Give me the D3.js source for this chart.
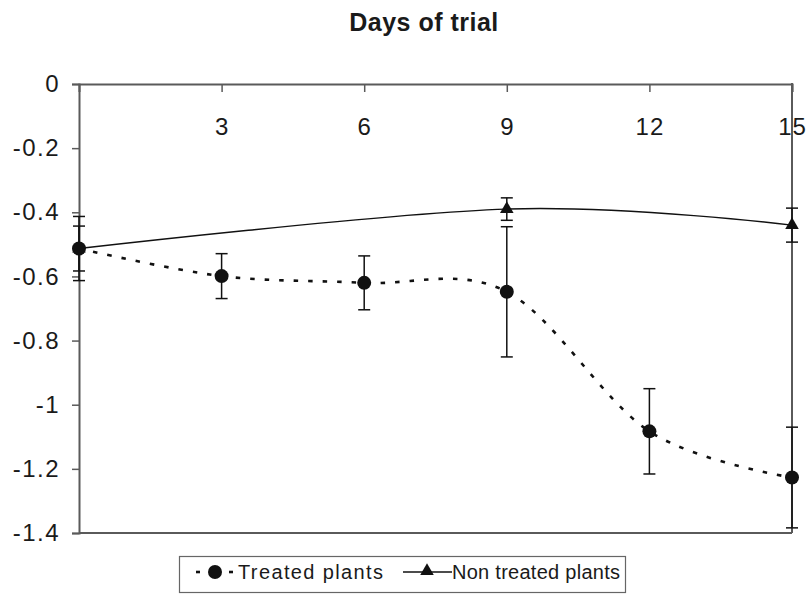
<!DOCTYPE html>
<html>
<head>
<meta charset="utf-8">
<script src="https://cdn.jsdelivr.net/npm/d3@7"></script>
<style>
  html, body { margin: 0; padding: 0; background: #fff; }
  svg { display: block; font-family: "Liberation Sans", Arial, sans-serif; }
</style>
</head>
<body>
<svg id="chart" width="808" height="594"></svg>
<script>
// Days on which measurements were taken
const days = [0, 3, 6, 9, 12, 15];
// Treated plants: mean value and error per day
const treated = [-0.513, -0.599, -0.620, -0.648, -1.083, -1.227];
const treatedErr = [0.10, 0.07, 0.084, 0.203, 0.133, 0.157];
// Non treated plants were measured on fewer days
const nonDays = [0, 9, 15];
const nonTreated = [-0.513, -0.39, -0.44];
const nonErr = [0.07, 0.035, 0.053];
// Axis ticks
const xTicks = [3, 6, 9, 12, 15];
const yTicks = [0, -0.2, -0.4, -0.6, -0.8, -1, -1.2, -1.4];

const svg = d3.select("#chart");
const plotLeft = 79, plotRight = 792, plotTop = 84, plotBottom = 533;
const x = d3.scaleLinear().domain([0, 15]).range([plotLeft, plotRight]);
const y = d3.scaleLinear().domain([0, -1.4]).range([plotTop, plotBottom]);
const axisColor = "#5a5a5a";

// Title
svg.append("text")
  .attr("x", 424).attr("y", 31)
  .attr("text-anchor", "middle")
  .attr("font-size", 25).attr("font-weight", "bold")
  .attr("letter-spacing", 0.5)
  .attr("fill", "#1a1a1a")
  .text("Days of trial");

// Left (value) axis
const yAxis = d3.axisLeft(y).tickValues(yTicks).tickSize(7).tickPadding(12)
  .tickFormat(d => String(+d.toFixed(1)));
const gy = svg.append("g").attr("transform", `translate(${plotLeft},0)`).call(yAxis);
gy.select(".domain").attr("stroke", axisColor).attr("stroke-width", 2);
gy.selectAll(".tick line").attr("stroke", axisColor).attr("stroke-width", 1.5);
gy.selectAll(".tick text")
  .attr("font-size", 24).attr("fill", "#1a1a1a")
  .attr("letter-spacing", 1.5)
  .attr("font-family", "'Liberation Sans', Arial, sans-serif");

// Top (days) axis at value 0, ticks pointing into the plot, labels below
const xAxis = d3.axisBottom(x).tickValues(xTicks).tickSize(8).tickPadding(26);
const gx = svg.append("g").attr("transform", `translate(0,${plotTop})`).call(xAxis);
gx.select(".domain").attr("stroke", axisColor).attr("stroke-width", 2);
gx.selectAll(".tick line").attr("stroke", axisColor).attr("stroke-width", 1.5);
gx.selectAll(".tick text")
  .attr("font-size", 24).attr("fill", "#1a1a1a")
  .attr("letter-spacing", 1)
  .attr("font-family", "'Liberation Sans', Arial, sans-serif");

// Plot frame (right and bottom edges), drawn over the axis labels
svg.append("line").attr("x1", plotRight).attr("x2", plotRight).attr("y1", plotTop - 1).attr("y2", plotBottom)
  .attr("stroke", axisColor).attr("stroke-width", 2);
svg.append("line").attr("x1", plotLeft).attr("x2", plotRight).attr("y1", plotBottom).attr("y2", plotBottom)
  .attr("stroke", axisColor).attr("stroke-width", 2);

const smooth = d3.curveCardinal.tension(0);

// Non treated plants: solid smoothed line
const nonPts = nonDays.map((d, i) => [d, nonTreated[i], nonErr[i]]);
svg.append("path")
  .attr("d", d3.line().x(d => x(d[0])).y(d => y(d[1])).curve(smooth)(nonPts))
  .attr("fill", "none").attr("stroke", "#111").attr("stroke-width", 1.4);

// Treated plants: dotted smoothed line
const trPts = days.map((d, i) => [d, treated[i], treatedErr[i]]);
svg.append("path")
  .attr("d", d3.line().x(d => x(d[0])).y(d => y(d[1])).curve(smooth)(trPts))
  .attr("fill", "none").attr("stroke", "#111").attr("stroke-width", 2.6)
  .attr("stroke-dasharray", "4.5,10");

// Error bars for both series
function errorBars(pts) {
  const g = svg.append("g").attr("stroke", "#111").attr("stroke-width", 1.5);
  pts.forEach(p => {
    const cx = x(p[0]), y1 = y(p[1] + p[2]), y2 = y(p[1] - p[2]);
    g.append("line").attr("x1", cx).attr("x2", cx).attr("y1", y1).attr("y2", y2);
    g.append("line").attr("x1", cx - 6).attr("x2", cx + 6).attr("y1", y1).attr("y2", y1);
    g.append("line").attr("x1", cx - 6).attr("x2", cx + 6).attr("y1", y2).attr("y2", y2);
  });
}
errorBars(nonPts);
errorBars(trPts);

// Markers
const tri = d3.symbol().type(d3.symbolTriangle).size(80);
svg.append("g").selectAll("path").data(nonPts).join("path")
  .attr("transform", d => `translate(${x(d[0])},${y(d[1])})`)
  .attr("d", tri).attr("fill", "#111");
svg.append("g").selectAll("circle").data(trPts).join("circle")
  .attr("cx", d => x(d[0])).attr("cy", d => y(d[1])).attr("r", 7)
  .attr("fill", "#111");

// Legend
const lg = svg.append("g");
lg.append("rect").attr("x", 179.5).attr("y", 556.5).attr("width", 446).attr("height", 36)
  .attr("fill", "#fff").attr("stroke", "#666").attr("stroke-width", 1.2);
[[196, 200], [229, 233]].forEach(([a, b]) => {
  lg.append("line").attr("x1", a).attr("x2", b).attr("y1", 572).attr("y2", 572)
    .attr("stroke", "#111").attr("stroke-width", 2.6);
});
lg.append("circle").attr("cx", 215).attr("cy", 572).attr("r", 7).attr("fill", "#111");
lg.append("text").attr("x", 238).attr("y", 579)
  .attr("font-size", 20).attr("fill", "#1a1a1a")
  .attr("textLength", 145).attr("lengthAdjust", "spacing")
  .text("Treated plants");
lg.append("line").attr("x1", 403).attr("x2", 452).attr("y1", 572).attr("y2", 572)
  .attr("stroke", "#111").attr("stroke-width", 1.4);
lg.append("path").attr("transform", "translate(427,571)").attr("d", tri).attr("fill", "#111");
lg.append("text").attr("x", 452).attr("y", 579)
  .attr("font-size", 20).attr("fill", "#1a1a1a")
  .attr("textLength", 168).attr("lengthAdjust", "spacing")
  .text("Non treated plants");
</script>
</body>
</html>
